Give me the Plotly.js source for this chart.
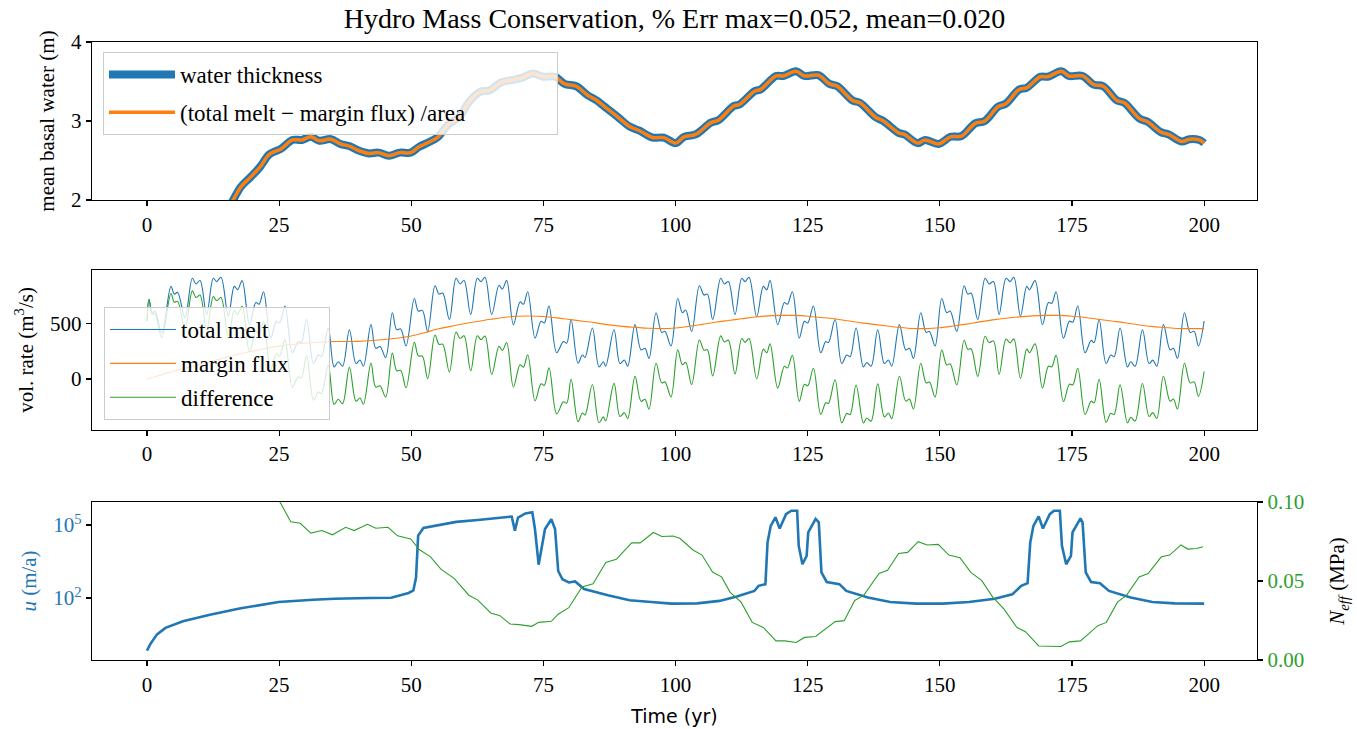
<!DOCTYPE html>
<html>
<head>
<meta charset="utf-8">
<script src="https://cdn.plot.ly/plotly-3.0.1.min.js"></script>
<style>
html,body{margin:0;padding:0;background:#fff;}
#chart{width:1357px;height:729px;}
</style>
</head>
<body>
<div id="chart"></div>
<script>
// ---------- Top panel: mean basal water (m) ----------
const waterT = [15.0,16.3,17.8,19.6,21.4,23.2,25.4,27.5,29.3,31.0,32.6,34.8,36.6,38.4,39.9,42.0,43.8,45.8,47.8,49.9,
  51.4,53.6,55.1,56.9,59.1,60.9,63.0,64.9,67.0,69.2,71.0,73.0,75.0,77.2,79.0,81.2,83.3,85.1,87.0,89.1,
  91.3,93.1,95.7,97.8,100.0,101.6,103.8,106.7,108.1,111.0,112.1,115.0,116.1,119.0,120.4,122.8,124.4,127.0,129.1,130.6,
  133.5,134.9,137.8,139.3,142.2,143.3,145.8,147.2,149.8,152.0,154.1,156.7,158.5,161.0,162.5,165.0,166.4,169.0,170.4,173.0,
  174.4,177.0,179.1,180.9,183.5,184.9,187.8,189.3,191.8,193.3,195.8,197.2,199.1,200.0];
const waterV = [1.86,2.00,2.17,2.29,2.42,2.58,2.65,2.76,2.76,2.80,2.75,2.77,2.71,2.68,2.63,2.59,2.60,2.56,2.60,2.60,
  2.67,2.74,2.80,2.95,3.05,3.24,3.37,3.39,3.49,3.52,3.55,3.60,3.56,3.56,3.47,3.44,3.33,3.26,3.16,3.05,
  2.93,2.88,2.79,2.79,2.72,2.80,2.83,2.98,3.01,3.19,3.21,3.38,3.40,3.57,3.57,3.63,3.57,3.58,3.47,3.44,
  3.26,3.23,3.05,3.00,2.85,2.83,2.72,2.76,2.71,2.80,2.81,2.97,3.00,3.18,3.22,3.40,3.42,3.56,3.56,3.63,
  3.57,3.57,3.46,3.44,3.26,3.23,3.03,2.99,2.86,2.83,2.74,2.77,2.76,2.72];
const balanceV = [1.86,2.00,2.17,2.29,2.42,2.58,2.65,2.76,2.76,2.80,2.75,2.77,2.71,2.68,2.63,2.59,2.60,2.56,2.60,2.60,
  2.67,2.74,2.80,2.95,3.05,3.24,3.37,3.39,3.49,3.52,3.55,3.60,3.56,3.56,3.47,3.44,3.33,3.26,3.16,3.05,
  2.93,2.88,2.79,2.79,2.72,2.80,2.83,2.98,3.01,3.19,3.21,3.38,3.40,3.57,3.57,3.63,3.57,3.58,3.47,3.44,
  3.26,3.23,3.05,3.00,2.85,2.83,2.72,2.76,2.71,2.80,2.81,2.97,3.00,3.18,3.22,3.40,3.42,3.56,3.56,3.63,
  3.57,3.57,3.46,3.44,3.26,3.23,3.03,2.99,2.86,2.83,2.74,2.77,2.76,2.72];

// ---------- Middle panel: vol. rate (m^3/s) ----------
const meltT = [0.00,0.38,1.01,1.51,2.78,4.54,5.17,5.80,7.19,8.58,9.27,10.03,11.29,12.55,13.18,14.00,15.39,16.52,17.15,18.00,
  19.40,20.60,21.20,22.05,23.40,24.50,25.10,26.10,27.50,28.60,29.20,30.20,31.50,32.40,33.00,34.30,35.40,36.20,37.00,38.30,
  39.55,40.30,40.95,42.38,43.27,44.09,45.16,46.42,47.24,48.00,49.01,50.58,51.34,52.10,53.11,54.49,55.25,55.94,57.21,58.47,
  59.22,59.98,61.24,62.50,63.20,63.95,65.22,66.60,67.23,68.05,69.32,70.58,71.21,72.03,73.42,74.55,75.18,76.06,77.51,78.78,
  79.41,80.23,81.55,82.37,82.87,84.26,85.52,86.34,86.78,88.36,89.49,90.31,90.95,92.33,93.47,94.22,94.98,96.31,97.38,98.01,
  99.14,100.41,101.29,101.92,103.05,104.51,105.39,106.02,107.03,108.54,109.24,109.99,111.25,112.52,113.15,113.90,115.35,116.61,117.25,117.88,
  119.33,120.59,121.16,122.10,123.40,124.38,125.01,126.08,127.47,128.41,128.92,130.18,131.44,132.39,133.02,134.15,135.54,136.17,136.99,138.25,
  139.51,140.27,140.90,142.35,143.55,144.24,145.00,146.39,147.40,148.03,149.10,150.36,151.31,151.94,153.20,154.59,155.28,155.91,157.17,158.56,
  159.32,160.14,161.21,162.53,163.29,164.00,165.25,166.44,166.95,168.02,169.41,170.54,171.17,171.99,173.38,174.52,175.15,176.09,177.48,178.62,
  179.18,180.13,181.45,182.34,182.97,184.10,185.49,186.12,186.94,188.33,189.59,190.29,191.04,192.30,193.56,194.19,194.95,196.28,197.35,198.11,
  198.92,200.00];
const meltV = [518,715,594,609,412,830,761,776,549,903,852,882,579,903,873,912,564,830,800,882,
  488,685,670,782,367,518,503,655,236,336,327,533,139,215,200,458,109,155,115,442,
  139,170,115,488,276,291,194,594,442,449,297,721,609,615,427,836,761,770,533,903,
  852,882,579,903,873,912,579,840,806,882,488,691,670,782,367,518,503,655,236,336,
  321,533,142,215,194,458,109,155,115,442,139,170,115,488,261,276,185,594,418,427,
  297,721,594,618,427,836,752,761,533,903,852,873,579,903,873,912,558,830,800,882,
  488,685,670,782,367,518,503,655,236,336,327,533,139,215,200,458,109,149,115,442,
  139,170,115,488,261,276,185,594,418,427,297,721,594,609,427,836,761,770,533,903,
  852,873,579,903,873,912,564,830,800,882,488,685,679,782,367,518,509,655,236,346,
  327,533,139,215,200,458,109,155,115,442,139,170,115,488,261,276,185,594,418,427,
  297,520];
const diffV = [518,710,580,588,373,766,689,696,453,790,731,752,432,739,702,730,364,617,579,652,
  244,429,408,512,85,227,207,353,-74,20,8,210,-188,-115,-131,124,-227,-181,-221,105,
  -199,-169,-225,143,-72,-60,-162,232,75,78,-78,329,208,205,4,395,311,313,64,422,
  364,387,74,388,352,385,42,294,256,328,-71,128,107,218,-196,-43,-56,100,-312,-204,
  -216,1,-382,-304,-322,-49,-391,-339,-376,-39,-335,-301,-353,24,-199,-181,-270,141,-34,-26,
  -160,261,129,149,-49,350,259,263,28,387,332,348,46,363,329,363,1,268,235,315,
  -81,115,100,212,-200,-47,-60,97,-316,-212,-218,-6,-391,-308,-318,-53,-393,-349,-378,-43,
  -339,-304,-355,25,-197,-179,-268,142,-34,-27,-160,259,126,137,-53,347,267,271,24,383,
  327,342,42,358,324,360,6,268,236,315,-81,115,109,212,-201,-46,-53,97,-316,-198,
  -213,-1,-387,-306,-317,-52,-392,-342,-376,-40,-335,-301,-353,25,-197,-179,-268,142,-34,-25,
  -155,68];
const fluxT = [0,2.5,5,7.5,10,12.5,15,17.5,20,22.5,25,27.5,30,32.5,35,37.5,40,42.5,45,47.5,
  50,52.5,55,57.5,60,62.5,65,67.5,70,72.5,75,77.5,80,82.5,85,87.5,90,92.5,95,97.5,
  100,102.5,105,107.5,110,112.5,115,117.5,120,122.5,125,127.5,130,132.5,135,137.5,140,142.5,145,147.5,
  150,152.5,155,157.5,160,162.5,165,167.5,170,172.5,175,177.5,180,182.5,185,187.5,190,192.5,195,197.5,200];
const fluxV = [0,35,70,100,130,163,195,225,250,275,295,310,322,330,336,336,338,345,355,368,
  385,415,448,472,495,515,535,552,562,565,560,548,533,518,503,485,472,463,455,452,
  458,472,490,509,525,540,556,566,570,570,563,552,540,522,505,490,475,462,453,452,
  460,475,492,512,530,545,557,566,570,570,563,552,535,520,505,487,472,462,453,452,452];

// ---------- Bottom panel: u (m/a) and N_eff (MPa) ----------
const uT = [0.0,0.66,1.9,3.5,6.8,11.7,17.5,24.9,31.4,35.5,42.1,46.2,49.5,50.4,50.9,51.3,52.3,54.4,58.5,62.6,
  66.7,69.0,69.6,70.2,71.6,72.9,73.4,74.1,75.3,76.5,77.2,77.8,78.6,79.8,81.0,82.7,87.2,91.3,95.4,99.2,
  104.1,108.3,111.6,114.9,115.7,117.0,117.4,118.0,118.9,119.7,120.9,121.9,123.0,123.3,124.0,124.8,125.1,126.5,127.1,127.6,
  128.6,129.8,131.0,132.3,136.4,140.6,145.5,150.5,155.5,160.4,163.7,165.4,166.6,167.1,167.7,168.7,169.5,170.8,171.6,172.7,
  173.1,173.9,174.8,175.1,176.6,177.0,177.6,178.6,180.3,182.0,186.1,190.2,194.4,200.0];
const uV = [0.69,1.3,3.2,5.9,11,20,37,69,85,93,100,102,162,204,690,37000,76000,93000,135000,162000,
  195000,224000,59000,204000,302000,339000,69000,2340,69000,174000,69000,1290,589,437,479,234,129,81,69,59,
  60,76,115,195,316,372,19000,93000,209000,72000,282000,389000,389000,14100,2450,5370,50000,178000,129000,1120,
  457,407,372,195,105,69,59,59,69,93,141,316,407,19000,93000,229000,72000,282000,389000,389000,
  14100,2450,5370,50000,190000,129000,1120,457,407,195,105,69,60,59];
const neffT = [24.5,27.2,29.0,31.0,33.1,35.1,37.6,39.2,41.7,43.3,45.6,47.4,49.9,51.5,53.6,55.6,58.1,60.9,62.6,65.1,
  66.7,68.7,70.4,72.8,74.1,76.5,77.8,79.8,82.3,84.4,86.8,88.8,91.7,93.3,95.8,97.4,99.5,100.8,103.3,105.0,
  107.0,108.7,110.3,112.4,114.5,116.6,119.0,120.7,122.8,124.4,126.5,130.2,131.9,133.9,135.6,138.5,140.1,142.2,143.9,145.9,
  147.6,149.7,151.7,153.8,155.9,157.9,160.0,162.1,164.6,166.2,168.7,170.4,172.9,174.5,176.6,179.9,181.5,183.6,185.3,187.7,
  189.4,191.9,193.5,195.6,196.9,198.5,199.8];
const neffV = [0.104,0.0875,0.0865,0.0803,0.0819,0.0792,0.0840,0.0819,0.0859,0.0834,0.0840,0.0786,0.0766,0.0699,0.0654,0.0575,0.0517,0.0410,0.0379,0.0296,
  0.0282,0.0228,0.0224,0.0213,0.0238,0.0245,0.0290,0.0331,0.0462,0.0482,0.0617,0.0637,0.0741,0.0741,0.0807,0.0782,0.0785,0.0770,0.0696,0.0664,
  0.0557,0.0526,0.0430,0.0366,0.0238,0.0206,0.0121,0.0121,0.0111,0.0143,0.0149,0.0243,0.0249,0.0377,0.0409,0.0547,0.0568,0.0674,0.0681,0.0749,
  0.0728,0.0732,0.0664,0.0647,0.0553,0.0504,0.0398,0.0323,0.0206,0.0179,0.0089,0.0089,0.0085,0.0115,0.0121,0.0217,0.0238,0.0366,0.0409,0.0526,
  0.0547,0.0653,0.0664,0.0728,0.0702,0.0706,0.0717];

// ---------- Ticks ----------
const xTicks = [0,25,50,75,100,125,150,175,200];
const waterTicks = [2,3,4];
const rateTicks = [0,500];
const uTickVals = [100,100000];
const uTickText = ['10<sup>2</sup>','10<sup>5</sup>'];
const neffTickVals = [0,0.05,0.1];
const neffTickText = ['0.00','0.05','0.10'];

const BLUE='#1f77b4', ORANGE='#ff7f0e', GREEN='#2ca02c';
const SERIF='Liberation Serif, Times New Roman, serif';
const SANS='DejaVu Sans, sans-serif';
const PAD1 = '\u00a0'.repeat(15);
const PAD2 = '\u00a0'.repeat(6);

const traces = [
  {x:waterT,y:waterV,xaxis:'x',yaxis:'y',mode:'lines',name:'water thickness',
   line:{color:BLUE,width:8,shape:'spline'},legend:'legend',legendgroup:'a'},
  {x:waterT,y:balanceV,xaxis:'x',yaxis:'y',mode:'lines',name:'(total melt \u2212 margin flux) /area'+PAD1,
   line:{color:ORANGE,width:3.5,shape:'spline'},legend:'legend',legendgroup:'b'},
  {x:meltT,y:meltV,xaxis:'x2',yaxis:'y2',mode:'lines',name:'total melt',
   line:{color:BLUE,width:1.1,shape:'spline'},legend:'legend2',legendgroup:'c'},
  {x:fluxT,y:fluxV,xaxis:'x2',yaxis:'y2',mode:'lines',name:'margin flux'+PAD2,
   line:{color:ORANGE,width:1.1,shape:'spline'},legend:'legend2',legendgroup:'d'},
  {x:meltT,y:diffV,xaxis:'x2',yaxis:'y2',mode:'lines',name:'difference',
   line:{color:GREEN,width:1.1,shape:'spline'},legend:'legend2',legendgroup:'e'},
  {x:uT,y:uV,xaxis:'x3',yaxis:'y3',mode:'lines',name:'u',showlegend:false,
   line:{color:BLUE,width:2.6}},
  {x:neffT,y:neffV,xaxis:'x3',yaxis:'y4',mode:'lines',name:'N_eff',showlegend:false,
   line:{color:GREEN,width:1.1}}
];

function xAx(anchor, extra){
  return Object.assign({anchor:anchor,domain:[0,1],range:[-10.4,210],tickvals:xTicks,
    ticks:'outside',ticklen:5,tickwidth:1.2,tickcolor:'#000',showline:true,linecolor:'#000',linewidth:1.3,
    mirror:true,showgrid:false,zeroline:false,automargin:false,
    tickfont:{family:SERIF,size:21,color:'#000'}},extra||{});
}
function yAx(anchor, domain, extra){
  return Object.assign({anchor:anchor,domain:domain,
    ticks:'outside',ticklen:5,tickwidth:1.2,tickcolor:'#000',showline:true,linecolor:'#000',linewidth:1.3,
    mirror:true,showgrid:false,zeroline:false,automargin:false,
    tickfont:{family:SERIF,size:21,color:'#000'}},extra||{});
}

const layout = {
  width:1357,height:729,
  margin:{l:92,r:100,t:42,b:69},
  paper_bgcolor:'#fff',plot_bgcolor:'rgba(0,0,0,0)',
  showlegend:true,
  title:{text:'Hydro Mass Conservation, % Err max=0.052, mean=0.020',
    font:{family:SERIF,size:28,color:'#000'},x:0.5,xref:'paper',xanchor:'center',
    y:1-18/729,yref:'container',yanchor:'middle'},
  xaxis:xAx('y'),
  yaxis:yAx('x',[0.7443,1],{range:[2,4],tickvals:waterTicks,
    title:{text:'mean basal water (m)',font:{family:SERIF,size:21,color:'#000'},standoff:10}}),
  xaxis2:xAx('y2'),
  yaxis2:yAx('x2',[0.3722,0.6311],{range:[-456,977],tickvals:rateTicks,
    title:{text:'vol. rate (m<sup>3</sup>/s)',font:{family:SERIF,size:21,color:'#000'},standoff:10}}),
  xaxis3:xAx('y3',{title:{text:'Time (yr)',font:{family:SANS,size:19,color:'#000'},standoff:14}}),
  yaxis3:yAx('x3',[0,0.2557],{type:'log',range:[-0.55,5.95],tickvals:uTickVals,ticktext:uTickText,
    tickfont:{family:SERIF,size:21,color:BLUE},mirror:false,
    title:{text:'<i>u</i> (m/a)',font:{family:SERIF,size:21,color:BLUE},standoff:10}}),
  yaxis4:{overlaying:'y3',anchor:'x3',side:'right',range:[0,0.1],tickvals:neffTickVals,ticktext:neffTickText,
    ticks:'outside',ticklen:5,tickwidth:1.2,tickcolor:'#000',showline:true,linecolor:'#000',linewidth:1.3,
    showgrid:false,zeroline:false,automargin:false,
    tickfont:{family:SERIF,size:21,color:GREEN},
    title:{text:'<i>N</i><sub><i>eff</i></sub> (MPa)',font:{family:SERIF,size:21,color:'#000'},standoff:26}},
  legend:{x:(103-92)/1165,y:1-10/618,xanchor:'left',yanchor:'top',xref:'paper',yref:'paper',
    bgcolor:'rgba(255,255,255,0.8)',bordercolor:'#cccccc',borderwidth:1,
    font:{family:SERIF,size:23,color:'#000'},itemwidth:66,traceorder:'grouped',tracegroupgap:5},
  legend2:{x:(104-92)/1165,y:1-265/618,xanchor:'left',yanchor:'top',xref:'paper',yref:'paper',
    bgcolor:'rgba(255,255,255,0.8)',bordercolor:'#cccccc',borderwidth:1,
    font:{family:SERIF,size:23,color:'#000'},itemwidth:66,traceorder:'grouped',tracegroupgap:1}
};

Plotly.newPlot('chart',traces,layout,{displayModeBar:false,staticPlot:true});
</script>
</body>
</html>
